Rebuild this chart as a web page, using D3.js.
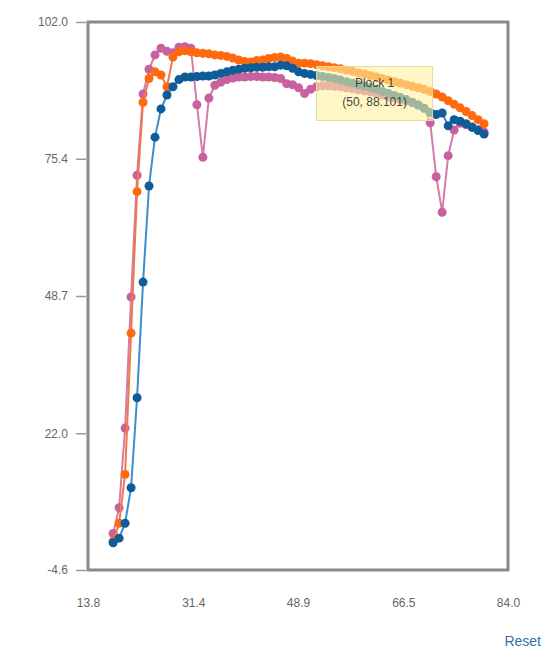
<!DOCTYPE html>
<html>
<head>
<meta charset="utf-8">
<script src="https://cdn.jsdelivr.net/npm/d3@7"></script>
<style>
  body { margin: 0; background: #fff; font-family: "Liberation Sans", Arial, sans-serif; }
  .tick-label { fill: #666; font-size: 12px; }
</style>
</head>
<body>
<div id="chart"></div>
<script>
// chart data
var xValues = [18, 19, 20, 21, 22, 23, 24, 25, 26, 27, 28, 29, 30, 31, 32, 33, 34, 35, 36, 37,
    38, 39, 40, 41, 42, 43, 44, 45, 46, 47, 48, 49, 50, 51, 52, 53, 54, 55, 56, 57,
    58, 59, 60, 61, 62, 63, 64, 65, 66, 67, 68, 69, 70, 71, 72, 73, 74, 75, 76, 77,
    78, 79, 80];

var pinkValues = [2.5, 7.5, 23.0, 48.5, 72.2, 88.0, 92.8, 95.6, 96.9, 96.3, 96.0, 97.1, 97.2, 96.9, 85.9, 75.7, 87.2, 89.7, 90.3, 90.8,
    91.1, 91.3, 91.3, 91.4, 91.4, 91.3, 91.3, 91.2, 91.0, 90.0, 89.8, 89.2, 88.101, 88.9, 89.4, 89.6, 89.6, 89.5, 89.4, 89.2,
    89.0, 88.8, 88.6, 88.4, 88.1, 87.8, 87.5, 87.2, 86.9, 86.6, 86.3, 85.9, 85.2, 82.4, 71.9, 65.0, 76.0, 81.0, 82.3, 82.0,
    81.6, 81.1, 80.6];

var orangeValues = [1.0, 4.5, 14.0, 41.5, 69.0, 86.4, 91.0, 92.3, 91.7, 89.4, 95.2, 96.2, 96.4, 96.2, 96.0, 95.9, 95.8, 95.6, 95.5, 95.3,
    95.0, 94.6, 94.3, 94.2, 94.5, 94.6, 94.9, 95.1, 95.2, 94.9, 94.4, 94.0, 94.0, 93.9, 93.7, 93.5, 93.3, 93.1, 92.9, 92.6,
    92.4, 92.1, 91.9, 91.6, 91.3, 91.0, 90.7, 90.4, 90.1, 89.8, 89.5, 89.2, 88.9, 88.5, 88.0, 87.4, 86.7, 86.0, 85.3, 84.6,
    83.8, 83.0, 82.2];

var blueValues = [0.7, 1.6, 4.5, 11.4, 28.9, 51.4, 70.1, 79.6, 85.1, 87.8, 89.4, 90.8, 91.3, 91.3, 91.4, 91.5, 91.5, 91.7, 92.0, 92.3,
    92.6, 92.8, 93.0, 93.1, 93.2, 93.2, 93.3, 93.3, 93.6, 93.5, 93.0, 92.3, 92.0, 91.8, 91.6, 91.4, 91.2, 91.0, 90.7, 90.4,
    90.1, 89.8, 89.5, 89.2, 88.9, 88.5, 88.1, 87.7, 87.3, 86.9, 86.4, 85.8, 85.2, 84.4, 84.0, 84.3, 81.8, 83.0, 82.7, 82.2,
    81.5, 80.9, 80.2];

var xTicks = [13.8, 31.4, 48.9, 66.5, 84.0];
var yTicks = [-4.6, 22.0, 48.7, 75.4, 102.0];

var tipName = "Plock 1";
var tipIndex = 32; // x = 50

// layout
var svgWidth = 543;
var svgHeight = 651;
var plot = { left: 88, right: 508, top: 22, bottom: 570 };

var svg = d3.select("#chart").append("svg")
    .attr("width", svgWidth)
    .attr("height", svgHeight);

var xScale = d3.scaleLinear().domain([13.8, 84.0]).range([plot.left, plot.right]);
var yScale = d3.scaleLinear().domain([-4.6, 102.0]).range([plot.bottom, plot.top]);

// plain hyphen for negatives, one decimal
var fmt = d => d.toFixed(1);

// y axis: short ticks on the left
var leftAxis = d3.axisLeft(yScale)
    .tickValues(yTicks)
    .tickSize(10)
    .tickPadding(8)
    .tickFormat(fmt);

var yAxis = svg.append("g")
    .attr("transform", `translate(${plot.left - 2}, 0)`)
    .call(leftAxis);
yAxis.select(".domain").remove();
yAxis.selectAll("line").attr("stroke", "#999").attr("stroke-width", 1.5);
yAxis.selectAll("text").attr("class", "tick-label")
    .style("font-family", "'Liberation Sans', Arial, sans-serif");

// x axis: labels only
var bottomAxis = d3.axisBottom(xScale)
    .tickValues(xTicks)
    .tickSize(0)
    .tickPadding(28)
    .tickFormat(fmt);

var xAxis = svg.append("g")
    .attr("transform", `translate(0, ${plot.bottom})`)
    .call(bottomAxis);
xAxis.select(".domain").remove();
xAxis.selectAll("text").attr("class", "tick-label")
    .style("font-family", "'Liberation Sans', Arial, sans-serif");

// series
var series = [
    { name: "pink", values: pinkValues, dot: "#c9609f", line: "#d77aa8" },
    { name: "orange", values: orangeValues, dot: "#ff6a0e", line: "#ef7a48" },
    { name: "blue", values: blueValues, dot: "#0f5c98", line: "#3f8ccc" }
];

var line = d3.line()
    .x((d, i) => xScale(xValues[i]))
    .y(d => yScale(d));

series.forEach(function(s) {
    var g = svg.append("g").attr("class", "series-" + s.name);
    g.append("path")
        .datum(s.values)
        .attr("d", line)
        .attr("fill", "none")
        .attr("stroke", s.line)
        .attr("stroke-width", 2);
    g.selectAll("circle")
        .data(s.values)
        .enter()
        .append("circle")
        .attr("cx", (d, i) => xScale(xValues[i]))
        .attr("cy", d => yScale(d))
        .attr("r", 4.5)
        .attr("fill", s.dot);
});

// plot frame
svg.append("rect")
    .attr("x", plot.left)
    .attr("y", plot.top)
    .attr("width", plot.right - plot.left)
    .attr("height", plot.bottom - plot.top)
    .attr("fill", "none")
    .attr("stroke", "#8a8a8a")
    .attr("stroke-width", 3);

// tooltip for the hovered point
var tipX = xScale(xValues[tipIndex]) + 12;
var tipY = yScale(pinkValues[tipIndex]) - 27;
var tip = svg.append("g").attr("transform", `translate(${tipX}, ${tipY})`);
tip.append("rect")
    .attr("width", 116)
    .attr("height", 54)
    .attr("fill", "#fff3a0")
    .attr("fill-opacity", 0.6)
    .attr("stroke", "#e2dca0")
    .attr("stroke-width", 1);
tip.append("text")
    .attr("x", 58)
    .attr("y", 21)
    .attr("text-anchor", "middle")
    .attr("fill", "#444")
    .style("font-size", "12px")
    .text(tipName);
tip.append("text")
    .attr("x", 58)
    .attr("y", 40)
    .attr("text-anchor", "middle")
    .attr("fill", "#444")
    .style("font-size", "12px")
    .text(`(${xValues[tipIndex]}, ${pinkValues[tipIndex]})`);

// reset link
svg.append("text")
    .attr("x", 541)
    .attr("y", 646)
    .attr("text-anchor", "end")
    .attr("fill", "#3b6fa6")
    .style("font-size", "14px")
    .style("cursor", "pointer")
    .text("Reset");
</script>
</body>
</html>
